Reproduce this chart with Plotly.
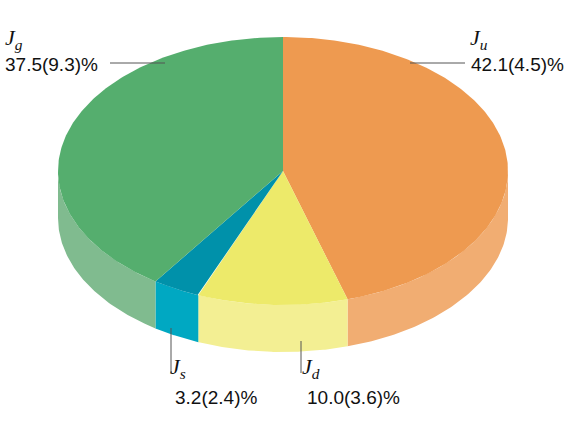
import numpy as np
import plotly.graph_objects as go

# slice data (clockwise from 12 o'clock)
names = ["u", "d", "s", "g"]
shares = [42.1, 10.0, 3.2, 37.5]
errors = [4.5, 3.6, 2.4, 9.3]
top_colors = ["#EE9A50", "#EDEA6A", "#0091AA", "#55AE6E"]
side_colors = ["#F1AD72", "#F3EF93", "#00A8C2", "#80BB8F"]

# ellipse geometry in page pixels
cx, cy, rx, ry, depth = 283, 171, 225, 134, 47


def rim(t, dy=0.0):
    r = np.radians(t)
    return cx + rx * np.sin(r), cy - ry * np.cos(r) + dy


total = sum(shares)
edges = np.concatenate([[0], np.cumsum(shares) / total * 360])

fig = go.Figure()

# side walls (only the front half, 90..270 deg, is visible)
for i in range(len(shares)):
    a, b = max(edges[i], 90), min(edges[i + 1], 270)
    if b <= a:
        continue
    t = np.linspace(a, b, 80)
    x1, y1 = rim(t)
    x2, y2 = rim(t[::-1], depth)
    fig.add_trace(go.Scatter(
        x=np.concatenate([x1, x2]), y=np.concatenate([y1, y2]),
        fill="toself", fillcolor=side_colors[i], mode="lines",
        line=dict(width=0), hoverinfo="skip", showlegend=False))

# top faces
for i in range(len(shares)):
    t = np.linspace(edges[i], edges[i + 1], 200)
    x, y = rim(t)
    fig.add_trace(go.Scatter(
        x=np.concatenate([[cx], x, [cx]]), y=np.concatenate([[cy], y, [cy]]),
        fill="toself", fillcolor=top_colors[i], mode="lines",
        line=dict(width=0), hoverinfo="skip", showlegend=False,
        name="J" + names[i]))

# label placement: (J x, J y, value x, value y)
label_pos = {
    "u": (468, 39, 469, 64),
    "d": (300, 368, 305, 397),
    "s": (168, 368, 173, 397),
    "g": (3, 39, 3, 64),
}
leaders = {
    "u": ((410, 63), (465, 63)),
    "d": ((301, 341), (301, 373)),
    "s": ((171, 328), (171, 373)),
    "g": ((110, 63), (165, 63)),
}

for n, v, e in zip(names, shares, errors):
    jx, jy, vx, vy = label_pos[n]
    fig.add_annotation(x=jx, y=jy, xanchor="left", yanchor="middle",
                       text="<i>J</i><sub><i>%s</i></sub>" % n, showarrow=False,
                       font=dict(family="Liberation Serif", size=22, color="#111"))
    fig.add_annotation(x=vx, y=vy, xanchor="left", yanchor="middle",
                       text="%.1f(%.1f)%%" % (v, e), showarrow=False,
                       font=dict(family="Liberation Sans", size=19, color="#111"))
    (x0, y0), (x1, y1) = leaders[n]
    fig.add_shape(type="line", x0=x0, y0=y0, x1=x1, y1=y1,
                  line=dict(color="#555", width=1))

fig.update_layout(
    width=574, height=432,
    margin=dict(l=0, r=0, t=0, b=0),
    paper_bgcolor="white", plot_bgcolor="white",
    xaxis=dict(range=[0, 574], visible=False, fixedrange=True),
    yaxis=dict(range=[432, 0], visible=False, fixedrange=True),
)

# drop the default body margin so the figure sits at the page corner
fig.write_html("out.html", config={"displayModeBar": False},
               post_script="document.body.style.margin = '0';")
